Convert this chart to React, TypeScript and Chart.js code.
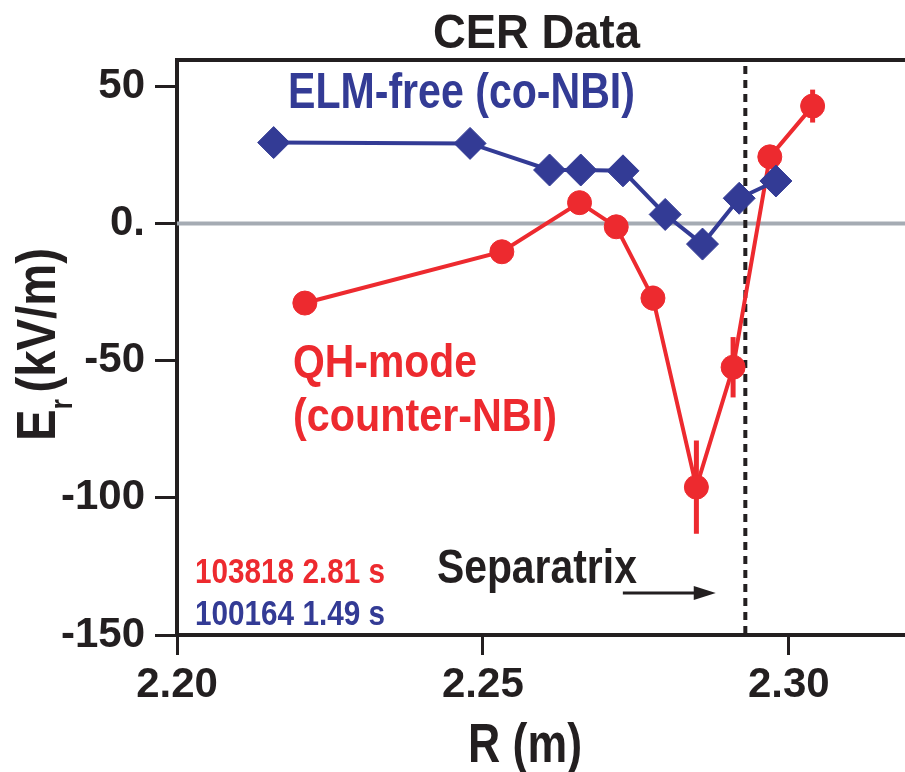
import { useEffect, useRef } from "react";
import { Chart, registerables } from "chart.js";

Chart.register(...registerables);

// ---- data ----
const elmR = [2.2158, 2.2479, 2.2609, 2.266, 2.2729, 2.2798, 2.2859, 2.2919, 2.2979];
const elmEr = [29.5, 29.2, 19.5, 19.5, 19.2, 3.3, -7.5, 9.2, 15.5];
const qhR = [2.2209, 2.2531, 2.2658, 2.2718, 2.2778, 2.2849, 2.2909, 2.2969, 2.3039];
const qhEr = [-29.0, -10.3, 7.6, -1.2, -27.2, -96.1, -52.4, 24.3, 42.8];
const qhErr = [0, 0, 0, 0, 4.5, 17, 11, 0, 6];
const xTicks = [2.2, 2.25, 2.3];
const yTicks = [-150, -100, -50, 0, 50];
const separatrixR = 2.2929;

const BLUE = "#333B95";
const RED = "#ED2A2F";
const BLACK = "#231F20";
const GRAY = "#A5ABB3";
const FONT = '"Liberation Sans", Arial, Helvetica, sans-serif';

function fitText(
  ctx: CanvasRenderingContext2D,
  text: string,
  x: number,
  y: number,
  size: number,
  width: number,
  color: string
) {
  ctx.save();
  ctx.font = `bold ${size}px ${FONT}`;
  const w = ctx.measureText(text).width;
  const sx = width / w;
  ctx.fillStyle = color;
  ctx.textBaseline = "alphabetic";
  ctx.textAlign = "left";
  ctx.translate(x, y);
  ctx.scale(sx, 1);
  ctx.fillText(text, 0, 0);
  ctx.restore();
}

const decorPlugin = {
  id: "decor",
  beforeDatasetsDraw(chart: any) {
    const { ctx, chartArea, scales } = chart;
    const xs = scales.x;
    const ys = scales.y;
    ctx.save();
    // zero line
    const y0 = ys.getPixelForValue(0);
    ctx.strokeStyle = GRAY;
    ctx.lineWidth = 4;
    ctx.beginPath();
    ctx.moveTo(chartArea.left, y0);
    ctx.lineTo(chartArea.right, y0);
    ctx.stroke();
    // separatrix dotted line
    const xs0 = xs.getPixelForValue(separatrixR);
    ctx.strokeStyle = BLACK;
    ctx.lineWidth = 4;
    ctx.setLineDash([8, 6]);
    ctx.beginPath();
    ctx.moveTo(xs0, chartArea.top + 6);
    ctx.lineTo(xs0, chartArea.bottom);
    ctx.stroke();
    ctx.setLineDash([]);
    // error bars
    ctx.strokeStyle = RED;
    ctx.lineWidth = 5;
    qhR.forEach((r, i) => {
      const e = qhErr[i];
      if (!e) return;
      const px = xs.getPixelForValue(r);
      ctx.beginPath();
      ctx.moveTo(px, ys.getPixelForValue(qhEr[i] + e));
      ctx.lineTo(px, ys.getPixelForValue(qhEr[i] - e));
      ctx.stroke();
    });
    ctx.restore();
  },
  afterDraw(chart: any) {
    const { ctx, chartArea, scales } = chart;
    const xs = scales.x;
    const ys = scales.y;
    const X = (v: number) => xs.getPixelForValue(v);
    const Y = (v: number) => ys.getPixelForValue(v);
    ctx.save();
    // top border
    ctx.strokeStyle = BLACK;
    ctx.lineWidth = 4;
    ctx.beginPath();
    ctx.moveTo(chartArea.left - 2, chartArea.top);
    ctx.lineTo(chartArea.right, chartArea.top);
    ctx.stroke();

    // title
    fitText(ctx, "CER Data", 433, 48, 49, 207, BLACK);
    // annotations
    fitText(ctx, "ELM-free (co-NBI)", X(2.21814), Y(42.1), 50, 347, BLUE);
    fitText(ctx, "QH-mode", X(2.21895), Y(-56.0), 47, 184, RED);
    fitText(ctx, "(counter-NBI)", X(2.21895), Y(-75.6), 47, 264, RED);
    fitText(ctx, "Separatrix", X(2.24248), Y(-131.0), 49, 200, BLACK);
    fitText(ctx, "103818 2.81 s", X(2.20294), Y(-131.0), 35, 190, RED);
    fitText(ctx, "100164 1.49 s", X(2.20294), Y(-146.4), 35, 190, BLUE);

    // arrow
    const ax1 = X(2.27288);
    const ax2 = X(2.28807);
    const ay = Y(-134.7);
    ctx.strokeStyle = BLACK;
    ctx.fillStyle = BLACK;
    ctx.lineWidth = 3;
    ctx.beginPath();
    ctx.moveTo(ax1, ay);
    ctx.lineTo(ax2 - 18, ay);
    ctx.stroke();
    ctx.beginPath();
    ctx.moveTo(ax2, ay);
    ctx.lineTo(ax2 - 22, ay - 7);
    ctx.lineTo(ax2 - 22, ay + 7);
    ctx.closePath();
    ctx.fill();

    // x title
    fitText(ctx, "R (m)", 468, 762, 56, 114, BLACK);

    // y title, rotated: E_r (kV/m)
    ctx.save();
    ctx.translate(55, 441);
    ctx.rotate(-Math.PI / 2);
    ctx.fillStyle = BLACK;
    ctx.textBaseline = "alphabetic";
    ctx.textAlign = "left";
    ctx.font = `bold 56px ${FONT}`;
    const wE = ctx.measureText("E").width;
    const wSp = ctx.measureText(" ").width * 0.5;
    const wP = ctx.measureText("(kV/m)").width;
    ctx.font = `bold 32px ${FONT}`;
    const wR = ctx.measureText("r").width;
    const total = wE + wR + wSp + wP;
    const sx = 193 / total;
    ctx.scale(sx, 1);
    ctx.font = `bold 56px ${FONT}`;
    ctx.fillText("E", 0, 0);
    ctx.font = `bold 32px ${FONT}`;
    ctx.fillText("r", wE, 17);
    ctx.font = `bold 56px ${FONT}`;
    ctx.fillText("(kV/m)", wE + wR + wSp, 0);
    ctx.restore();

    ctx.restore();
  },
};

export default function App() {
  const ref = useRef<HTMLCanvasElement | null>(null);

  useEffect(() => {
    if (!ref.current) return;
    const chart = new Chart(ref.current, {
      type: "line",
      data: {
        datasets: [
          {
            label: "ELM-free (co-NBI)",
            data: elmR.map((r, i) => ({ x: r, y: elmEr[i] })),
            borderColor: BLUE,
            backgroundColor: BLUE,
            borderWidth: 4,
            pointStyle: "rectRot",
            pointRadius: 16,
            pointBorderWidth: 1,
            pointBackgroundColor: BLUE,
            pointBorderColor: BLUE,
            tension: 0,
          },
          {
            label: "QH-mode (counter-NBI)",
            data: qhR.map((r, i) => ({ x: r, y: qhEr[i] })),
            borderColor: RED,
            backgroundColor: RED,
            borderWidth: 4,
            pointStyle: "circle",
            pointRadius: 12,
            pointBorderWidth: 1,
            pointBackgroundColor: RED,
            pointBorderColor: RED,
            tension: 0,
          },
        ],
      },
      options: {
        animation: false,
        responsive: false,
        devicePixelRatio: 1,
        layout: { autoPadding: false, padding: { top: 60, left: 0, right: 0, bottom: 0 } },
        plugins: { legend: { display: false }, tooltip: { enabled: false } },
        scales: {
          x: {
            type: "linear",
            min: 2.2,
            max: 2.319,
            afterBuildTicks: (s: any) => {
              s.ticks = xTicks.map((v) => ({ value: v }));
            },
            afterFit: (s: any) => {
              s.height = 137;
              s.paddingLeft = 0;
              s.paddingRight = 0;
            },
            grid: {
              drawOnChartArea: false,
              drawTicks: true,
              tickLength: 20,
              tickWidth: 3,
              tickColor: BLACK,
            },
            border: { display: true, width: 4, color: BLACK },
            ticks: {
              font: { size: 42, weight: "bold", family: FONT },
              color: BLACK,
              padding: 5,
              maxRotation: 0,
              autoSkip: false,
              callback: (v: any) => Number(v).toFixed(2),
            },
          },
          y: {
            type: "linear",
            min: -150,
            max: 59.6,
            afterBuildTicks: (s: any) => {
              s.ticks = yTicks.map((v) => ({ value: v }));
            },
            afterFit: (s: any) => {
              s.width = 177;
              s.paddingTop = 0;
              s.paddingBottom = 0;
            },
            grid: {
              drawOnChartArea: false,
              drawTicks: true,
              tickLength: 22,
              tickWidth: 3,
              tickColor: BLACK,
            },
            border: { display: true, width: 4, color: BLACK },
            ticks: {
              font: { size: 42, weight: "bold", family: FONT },
              color: BLACK,
              padding: 10,
              autoSkip: false,
              callback: (v: any) => (Number(v) === 0 ? "0." : String(v)),
            },
          },
        },
      },
      plugins: [decorPlugin],
    } as any);
    return () => chart.destroy();
  }, []);

  return (
    <div style={{ position: "absolute", left: 0, top: 0, width: 905, height: 772, background: "#fff" }}>
      <canvas ref={ref} width={905} height={772} style={{ display: "block" }} />
    </div>
  );
}
